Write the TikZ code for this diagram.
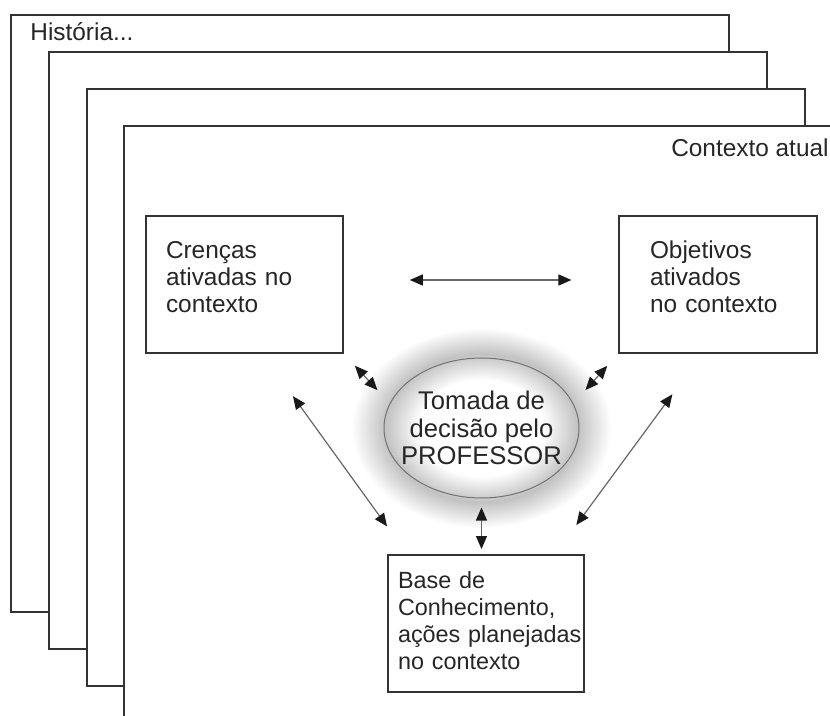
\documentclass[tikz,border=0pt]{standalone}
\usepackage{fontspec}
\setmainfont{Liberation Sans}
\usetikzlibrary{arrows.meta,shapes.geometric,calc}
\pgfdeclareradialshading{halo}{\pgfpoint{0cm}{0cm}}{color(0bp)=(white); color(12bp)=(white); color(18.5bp)=(black!24); color(25bp)=(white); color(50bp)=(white)}
\tikzset{
        histframe/.style={draw=black!80, line width=1pt, fill=white},
        plaintext/.style={inner sep=0pt, text=black!85, font=\fontsize{12.2}{13.5}\selectfont},
        infobox/.style={draw=black!80, line width=1pt, fill=white, anchor=north west,
            align=left, minimum height=68.5pt, text=black!85,
            font=\fontsize{12.2}{13.5}\selectfont},
        decision/.style={ellipse, draw=black!55, line width=0.5pt,
            minimum width=97.5pt, minimum height=70pt, inner xsep=-8pt, inner ysep=0pt,
            align=center, text=black!85, font=\fontsize{12.8}{13.75}\selectfont},
        biarrow/.style={draw=black!60, line width=0.6pt,
            {Triangle[length=6.5pt,width=5.5pt,color=black!90]}-{Triangle[length=6.5pt,width=5.5pt,color=black!90]}},
    }
\begin{document}
\begin{tikzpicture}[x=0.5pt, y=-0.5pt]
                \clip (0,0) rectangle (830,716);
                \foreach \i in {0,...,3}
                {
                    \draw[histframe] ({11+37.8*\i},{15+37*\i}) rectangle ++(718,597);
                }
                \node[plaintext, anchor=base west] (hist) at (30,41) {História...};
                \node[plaintext, anchor=base east] (atual) at (829,157) {Contexto atual};
                % caixas
                \node[infobox, text width=78.5pt, inner xsep=10pt, text depth=35pt] (cren) at (145,215) {Crenças\\ativadas no\\contexto};
                \node[infobox, text width=68pt, inner xsep=15.5pt, text depth=35pt] (obj) at (618,215) {Objetivos\\ativados\\no contexto};
                \node[infobox, text width=88pt, inner xsep=5pt, text depth=43.5pt, font=\fontsize{11.7}{13.5}\selectfont] (base) at (387,554) {Base de\\Conhecimento,\\\mbox{ações planejadas}\\no contexto};
                % elipse central
                \coordinate (ctr) at (481.5,428);
                \shade[shading=halo] (ctr) ellipse [x radius=130, y radius=100];
                \node[decision] (ell) at (ctr) {Tomada de\\decisão pelo\\PROFESSOR};
                % setas
                \draw[biarrow] ($([yshift=2.25pt]cren.east)!.24!([yshift=2.25pt]obj.west)$) -- ($([yshift=2.25pt]cren.east)!.83!([yshift=2.25pt]obj.west)$);
                \draw[biarrow, shorten <=8pt, shorten >=9pt] (cren.south east) -- (ell.165);
                \draw[biarrow, shorten <=8pt, shorten >=9pt] (obj.south west) -- (ell.15);
                \draw[biarrow, shorten <=26pt, shorten >=17pt] ([xshift=9pt]cren.south) -- ([xshift=10pt]base.north west);
                \draw[biarrow, shorten <=25pt, shorten >=18pt] ([xshift=-8pt]obj.south) -- ([xshift=-15pt]base.north east);
                \draw[biarrow, shorten <=4.5pt, shorten >=2.5pt] (ell.south) -- (ell.south |- base.north);
            \end{tikzpicture}
\end{document}
